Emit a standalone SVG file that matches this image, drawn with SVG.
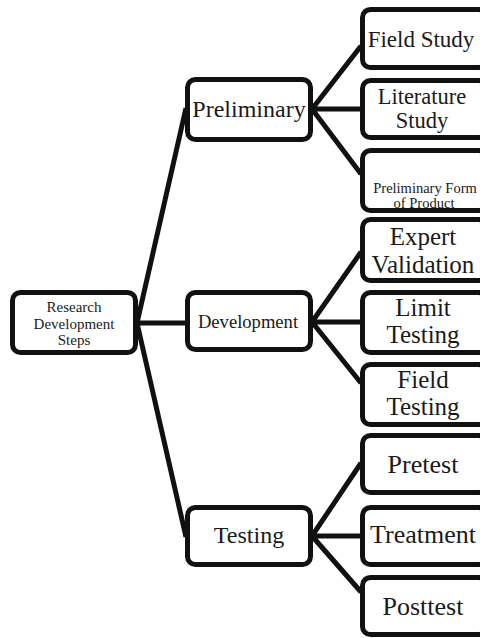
<svg xmlns="http://www.w3.org/2000/svg" width="480" height="638" viewBox="0 0 480 638">
<style>
.box{fill:#fff;stroke:#111;stroke-width:5;}
.con{stroke:#111;stroke-width:5;fill:none;stroke-linecap:butt;}
text{font-family:"Liberation Serif","Times New Roman",serif;fill:#1a1a1a;text-anchor:middle;}
</style>
<rect width="480" height="638" fill="#fff"/>
<g id="connectors">
<path class="con" d="M137,323 L186,108 M137,323 L186,323 M137,323 L186,537"/>
<path class="con" d="M312,109 L361,46 M312,109 L361,109 M312,109 L361,174"/>
<path class="con" d="M312,322 L361,252 M312,322 L361,322 M312,322 L361,383"/>
<path class="con" d="M312,536 L361,463 M312,536 L361,536 M312,536 L361,592"/>
</g>
<g id="root">
<rect class="box" x="12.5" y="292.5" width="123" height="60" rx="8"/>
<text x="74" y="312" font-size="15">Research</text>
<text x="74" y="329" font-size="15">Development</text>
<text x="74" y="345" font-size="15">Steps</text>
</g>
<g id="preliminary">
<rect class="box" x="187.5" y="79.5" width="123" height="60" rx="8"/>
<text x="249" y="117" font-size="24">Preliminary</text>
</g>
<g id="development">
<rect class="box" x="187.5" y="292.5" width="123" height="57" rx="8"/>
<text x="248" y="328" font-size="18.6">Development</text>
</g>
<g id="testing">
<rect class="box" x="187.5" y="507.5" width="123" height="57" rx="8"/>
<text x="249" y="543" font-size="24">Testing</text>
</g>
<g id="field-study">
<rect class="box" x="362.5" y="9.5" width="124" height="58" rx="8"/>
<text x="421" y="47" font-size="23">Field Study</text>
</g>
<g id="literature-study">
<rect class="box" x="362.5" y="80.5" width="124" height="57" rx="8"/>
<text x="422" y="104" font-size="22.5">Literature</text>
<text x="422" y="128" font-size="22.5">Study</text>
</g>
<g id="preliminary-form">
<rect class="box" x="362.5" y="150.5" width="124" height="60" rx="8"/>
<text x="425" y="193" font-size="14.5">Preliminary Form</text>
<text x="424" y="208" font-size="14.5">of Product</text>
</g>
<g id="expert-validation">
<rect class="box" x="362.5" y="219.5" width="124" height="61" rx="8"/>
<text x="423" y="245" font-size="25">Expert</text>
<text x="423" y="273" font-size="25">Validation</text>
</g>
<g id="limit-testing">
<rect class="box" x="362.5" y="292.5" width="124" height="60" rx="8"/>
<text x="423" y="316" font-size="25">Limit</text>
<text x="423" y="343" font-size="25">Testing</text>
</g>
<g id="field-testing">
<rect class="box" x="362.5" y="364.5" width="124" height="60" rx="8"/>
<text x="423" y="388" font-size="25">Field</text>
<text x="423" y="415" font-size="25">Testing</text>
</g>
<g id="pretest">
<rect class="box" x="362.5" y="435.5" width="124" height="57" rx="8"/>
<text x="423" y="473" font-size="26">Pretest</text>
</g>
<g id="treatment">
<rect class="box" x="362.5" y="507.5" width="124" height="57" rx="8"/>
<text x="423" y="543" font-size="26">Treatment</text>
</g>
<g id="posttest">
<rect class="box" x="362.5" y="577.5" width="124" height="57" rx="8"/>
<text x="423" y="615" font-size="26">Posttest</text>
</g>
</svg>
